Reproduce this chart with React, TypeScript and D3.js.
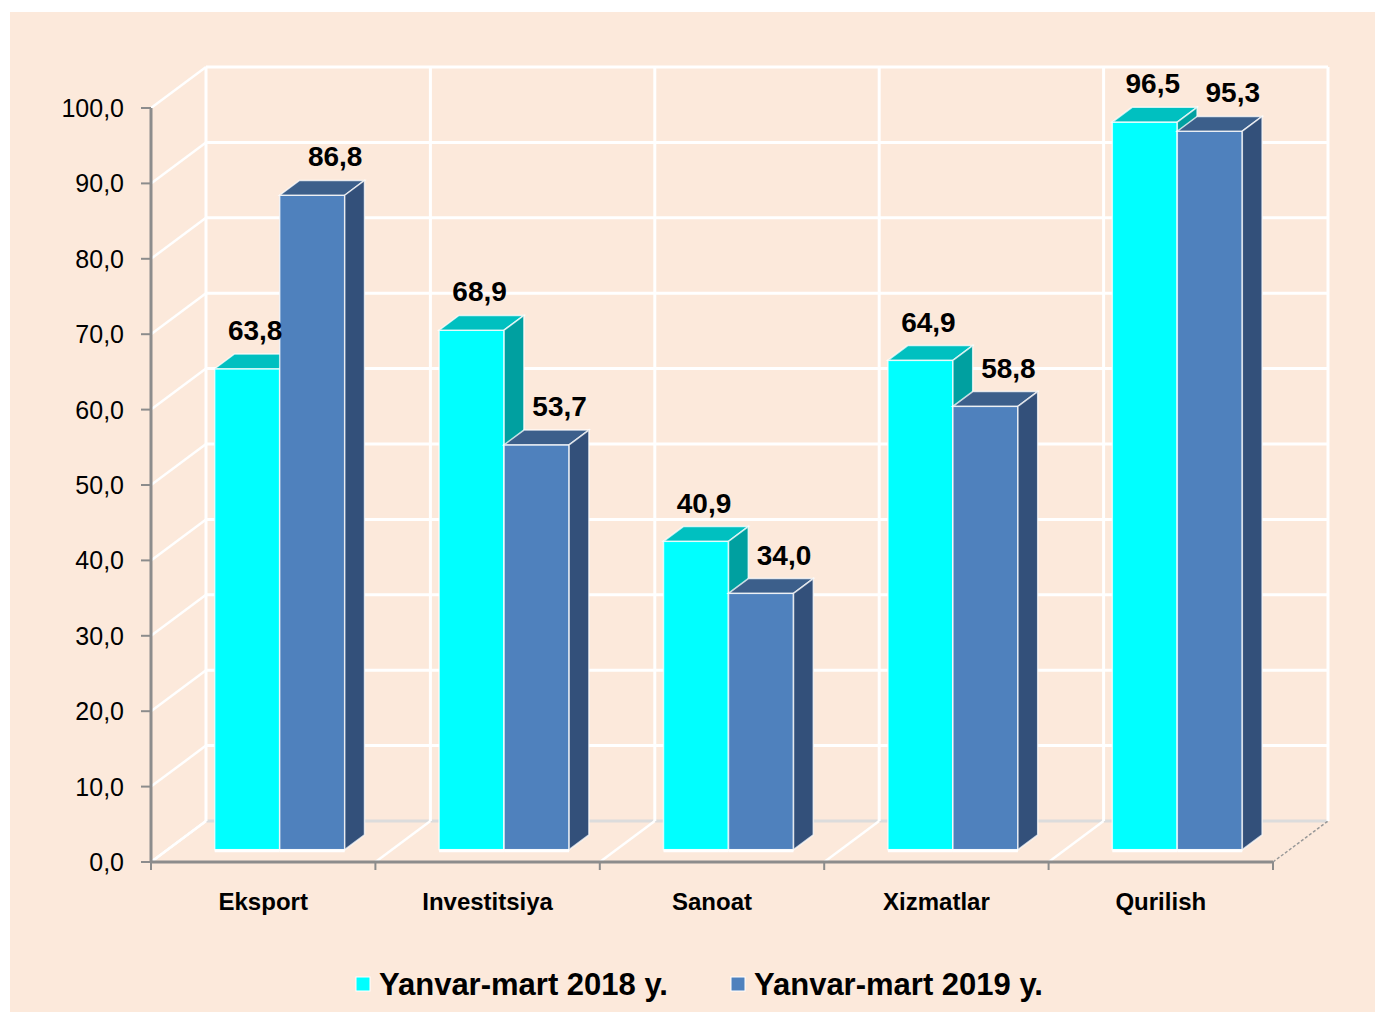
import React from "react";
import * as d3 from "d3";

// chart data
const categories = ["Eksport", "Investitsiya", "Sanoat", "Xizmatlar", "Qurilish"];
const seriesNames = ["Yanvar-mart 2018 y.", "Yanvar-mart 2019 y."];
const values2018 = [63.8, 68.9, 40.9, 64.9, 96.5];
const values2019 = [86.8, 53.7, 34.0, 58.8, 95.3];
const yTicks = [0, 10, 20, 30, 40, 50, 60, 70, 80, 90, 100];

// colours for each series: front, top, side
const palettes = [
  { front: "#00FFFF", top: "#00C0C0", side: "#00A0A0" },
  { front: "#4F81BD", top: "#3C5F8B", side: "#33507A" },
];

const fmt = (v: number) => d3.format(".1f")(v).replace(".", ",");

const App = () => {
  const width = 1375;
  const height = 1012;

  // front plane of the 3d box
  const x0 = 151;
  const x1 = 1273;
  // depth offset from front to back wall
  const DX = 55;
  const DY = -41;
  // bar depth position (fraction of the depth)
  const z0 = 0.3;
  const z1 = 0.66;

  const y = d3.scaleLinear().domain([0, 100]).range([862, 108]);
  const xCat = d3.scaleBand().domain(categories).range([x0, x1]).padding(0);
  const xSer = d3
    .scaleBand()
    .domain(["a", "b"])
    .range([0, xCat.bandwidth()])
    .paddingInner(0)
    .paddingOuter(0.726);

  const ox = DX * z0;
  const oy = DY * z0;
  const ddx = DX * (z1 - z0);
  const ddy = DY * (z1 - z0);
  // label shift per series (Excel puts them a bit to the right)
  const labelShift = [8, 23];

  const bounds = d3.range(categories.length + 1).map((i) => x0 + i * xCat.step());

  const bars: JSX.Element[] = [];
  const labels: JSX.Element[] = [];
  categories.forEach((c, ci) => {
    [values2018[ci], values2019[ci]].forEach((v, si) => {
      const p = palettes[si];
      const xl = (xCat(c) as number) + (xSer(si === 0 ? "a" : "b") as number) + ox;
      const xr = xl + xSer.bandwidth();
      const yt = y(v) + oy;
      const yb = y(0) + oy;
      const top = [
        [xl, yt], [xr, yt], [xr + ddx, yt + ddy], [xl + ddx, yt + ddy],
      ];
      const side = [
        [xr, yt], [xr + ddx, yt + ddy], [xr + ddx, yb + ddy], [xr, yb],
      ];
      bars.push(
        <g key={`${c}-${si}`}>
          <rect x={xl} y={yt} width={xr - xl} height={yb - yt} fill={p.front}
            stroke="#ffffff" strokeOpacity={0.75} strokeWidth={1.5} />
          <polygon points={top.map((d) => d.join(",")).join(" ")} fill={p.top}
            stroke="#ffffff" strokeOpacity={0.75} strokeWidth={1.5} />
          <polygon points={side.map((d) => d.join(",")).join(" ")} fill={p.side}
            stroke="#ffffff" strokeOpacity={0.75} strokeWidth={1.5} />
          <line x1={xl} x2={xr} y1={yb + 1} y2={yb + 1} stroke="#ffffff" strokeWidth={3} />
        </g>
      );
      labels.push(
        <text key={`l-${c}-${si}`} x={(xl + xr) / 2 + labelShift[si]} y={yt + ddy - 14}
          textAnchor="middle" fontSize={28} fontWeight="bold">
          {fmt(v)}
        </text>
      );
    });
  });

  return (
    <svg width={width} height={height} style={{ position: "absolute", left: 0, top: 0 }}
      fontFamily="Arial, 'Liberation Sans', sans-serif">
      <rect x={0} y={0} width={width} height={height} fill="#ffffff" />
      <rect x={10} y={12} width={width - 10} height={height - 12} fill="#FCE9DB" />

      {/* floor back edge */}
      <line x1={x0 + DX} x2={x1 + DX} y1={y(0) + DY} y2={y(0) + DY} stroke="#dcdcdc" strokeWidth={3} />

      {/* back wall gridlines */}
      {yTicks.map((t) => (
        <g key={`g${t}`}>
          {t > 0 && (
            <line x1={x0 + DX} x2={x1 + DX} y1={y(t) + DY} y2={y(t) + DY} stroke="#ffffff" strokeWidth={3} />
          )}
          <line x1={x0} x2={x0 + DX} y1={y(t)} y2={y(t) + DY} stroke="#ffffff" strokeWidth={2.5} />
        </g>
      ))}
      {bounds.map((b, i) => (
        <g key={`b${i}`}>
          <line x1={b + DX} x2={b + DX} y1={y(0) + DY} y2={y(100) + DY} stroke="#ffffff" strokeWidth={3} />
          <line x1={b} x2={b + DX} y1={y(0)} y2={y(0) + DY}
            stroke={i === bounds.length - 1 ? "#999999" : "#ffffff"}
            strokeWidth={i === bounds.length - 1 ? 1.5 : 2.5}
            strokeDasharray={i === bounds.length - 1 ? "3,2" : undefined} />
        </g>
      ))}

      {bars}

      {/* axes */}
      <line x1={x0} x2={x0} y1={y(100)} y2={y(0)} stroke="#8c8c8c" strokeWidth={3} />
      <line x1={x0} x2={x1} y1={y(0)} y2={y(0)} stroke="#8c8c8c" strokeWidth={3} />
      {yTicks.map((t) => (
        <g key={`t${t}`}>
          <line x1={x0 - 10} x2={x0} y1={y(t)} y2={y(t)} stroke="#8c8c8c" strokeWidth={2} />
          <text x={124} y={y(t)} dy="0.36em" textAnchor="end" fontSize={25}>
            {fmt(t)}
          </text>
        </g>
      ))}
      {bounds.map((b, i) => (
        <line key={`xt${i}`} x1={b} x2={b} y1={y(0)} y2={y(0) + 8} stroke="#8c8c8c" strokeWidth={2} />
      ))}
      {categories.map((c) => (
        <text key={c} x={(xCat(c) as number) + xCat.bandwidth() / 2} y={910}
          textAnchor="middle" fontSize={24} fontWeight="bold">
          {c}
        </text>
      ))}

      {labels}

      {/* legend */}
      {seriesNames.map((s, i) => {
        const lx = [356, 731][i];
        return (
          <g key={s}>
            <rect x={lx} y={977} width={14} height={14} fill={palettes[i].front}
              stroke="#ffffff" strokeWidth={1} />
            <text x={lx + 23} y={995} fontSize={31} fontWeight="bold">
              {s}
            </text>
          </g>
        );
      })}
    </svg>
  );
};

export default App;
